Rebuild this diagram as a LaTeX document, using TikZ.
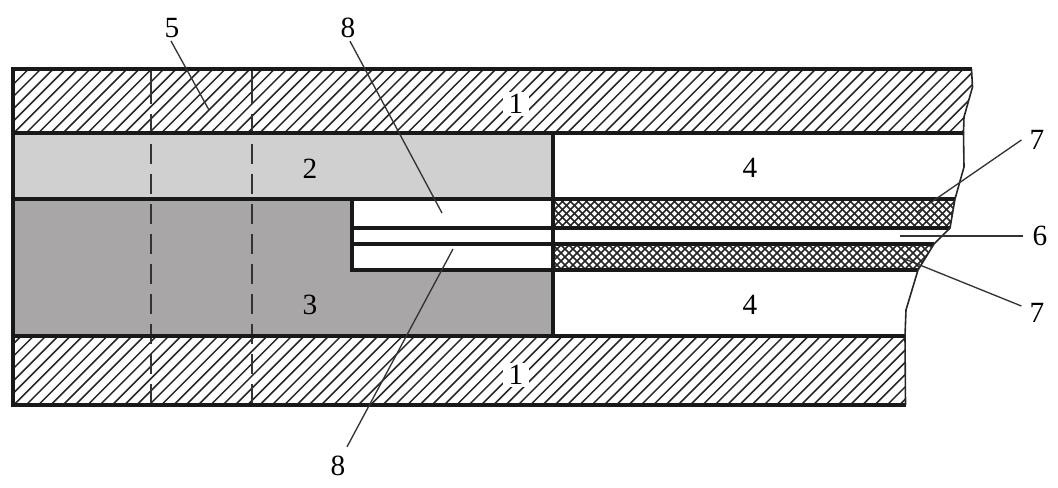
\documentclass[tikz,border=0pt]{standalone}
\usepackage{fontspec}
\setmainfont{Liberation Serif}
\usetikzlibrary{calc}
\definecolor{lightFill}{HTML}{D0D0D0}
\definecolor{darkFill}{HTML}{A8A6A6}
\newcommand{\bandTop}{69}
\newcommand{\bandOne}{133}
\newcommand{\bandTwo}{199}
\newcommand{\stripTop}{228}
\newcommand{\stripBottom}{244}
\newcommand{\bandThree}{270}
\newcommand{\bandFour}{336}
\newcommand{\bandBottom}{405}
\newcommand{\leftEdge}{13}
\newcommand{\stepX}{352}
\newcommand{\wallX}{553}
\tikzset{
	wallLine/.style={line width=2.4pt, black!90},
	hatchLine/.style={line width=1.15pt, black!85},
	crossLine/.style={line width=1.15pt, black!85},
	edgeLine/.style={line width=1.2pt, black!85},
	leaderLine/.style={line width=1pt, black!80},
	dashLine/.style={line width=1.2pt, black!80},
	numLabel/.style={inner sep=0pt, font=\fontsize{22}{22}\selectfont},
	numLabelClear/.style={numLabel, fill=white, inner xsep=4.5pt, inner ysep=2pt}
}
\begin{document}
\begin{tikzpicture}[x=.75pt,y=-.75pt]
	\useasboundingbox (0,0) rectangle (1058,487);

	% grey blocks
	\fill[lightFill] (\leftEdge,\bandOne) rectangle (\wallX,\bandTwo);
	\fill[darkFill] (\leftEdge,\bandTwo) -| (\stepX,\bandThree) -| (\wallX,\bandFour) -| cycle;

	% upper and lower hatched bars
	\begin{scope}
		\clip (\leftEdge,\bandTop) -- (971.5,\bandTop) -- (972.5,87) -- (964,117) -- (963.5,\bandOne) -- (\leftEdge,\bandOne) -- cycle;
		\foreach \hatchX in {-60,-47.7,...,1050}
			\draw[hatchLine] (\hatchX,\bandOne) -- ++(64,-64);
	\end{scope}
	\begin{scope}
		\clip (\leftEdge,\bandFour) rectangle (905.5,\bandBottom);
		\foreach \hatchX in {-60,-47.7,...,980}
			\draw[hatchLine] (\hatchX,\bandBottom) -- ++(69,-69);
	\end{scope}

	% cross hatched layers
	\begin{scope}
		\clip (\wallX,\bandTwo) -- (955,\bandTwo) -- (950,\stripTop) -- (\wallX,\stripTop) -- cycle;
		\foreach \hatchX in {520,528,...,980}
		{
			\draw[crossLine] (\hatchX,\stripTop) -- ++(29,-29);
			\draw[crossLine] (\hatchX,\bandTwo) -- ++(29,29);
		}
	\end{scope}
	\begin{scope}
		\clip (\wallX,\stripBottom) -- (934,\stripBottom) -- (918,\bandThree) -- (\wallX,\bandThree) -- cycle;
		\foreach \hatchX in {520,528,...,960}
		{
			\draw[crossLine] (\hatchX,\bandThree) -- ++(26,-26);
			\draw[crossLine] (\hatchX,\stripBottom) -- ++(26,26);
		}
	\end{scope}

	% dashed verticals
	\foreach \dashX in {151,252}
	{
		\draw[dashLine] (\dashX,\bandTop) -- (\dashX,104);
		\foreach \dashY in {114,144,...,384}
			\draw[dashLine] (\dashX,\dashY) -- ++(0,20);
	}

	% heavy outlines
	\foreach \xEnd/\yLine in {971.5/\bandTop, 963.5/\bandOne, 955/\bandTwo, 905/\bandFour, 905.5/\bandBottom}
		\draw[wallLine] (\leftEdge,\yLine) -- (\xEnd,\yLine);
	\foreach \xEnd/\yLine in {950/\stripTop, 934/\stripBottom, 918/\bandThree}
		\draw[wallLine] (\stepX,\yLine) -- (\xEnd,\yLine);
	\draw[wallLine, line cap=rect] (\leftEdge,\bandTop) -- (\leftEdge,\bandBottom);
	\draw[wallLine, line cap=rect] (\stepX,\bandTwo) -- (\stepX,\bandThree);
	\draw[wallLine, line cap=rect] (\wallX,\bandOne) -- (\wallX,\bandFour);

	% broken edge on the right
	\draw[edgeLine] (971.5,\bandTop) -- (972.5,87) -- (964,117) -- (963.5,\bandOne) -- (964,167) -- (955,\bandTwo) -- (950,\stripTop) -- (934,\stripBottom) -- (918,\bandThree) -- (906,310) -- (905,\bandFour) -- (905.5,\bandBottom);

	% labels
	\foreach \labelName/\xPos/\yPos/\labelText in {
		two/310/169/2, three/310/305/3,
		fourTop/750/168/4, fourBottom/750/305/4, five/172/28/5, six/1040/236/6,
		sevenTop/1037/140/7, sevenBottom/1037/313/7, eightTop/348/28/8, eightBottom/338/466/8}
		\node[numLabel] (\labelName) at (\xPos,\yPos) {\labelText};
	\node[numLabelClear] (oneTop) at (516,104) {1};
	\node[numLabelClear] (oneBottom) at (516,375) {1};

	% leader tips
	\foreach \tipName/\xPos/\yPos in {tipFive/209/110, tipSix/900/236, tipSevenTop/917/212, tipSevenBottom/900/257, tipEightTop/442/213, tipEightBottom/453/249}
		\coordinate (\tipName) at (\xPos,\yPos);

	\draw[leaderLine] ($(five.south)+(-1,3)$) -- (tipFive);
	\draw[leaderLine] ($(eightTop.south)+(2,3)$) -- (tipEightTop);
	\draw[leaderLine] ($(eightBottom.north)+(9,-9)$) -- (tipEightBottom);
	\draw[leaderLine] ($(sevenTop.west)+(-8,0)$) -- (tipSevenTop);
	\draw[leaderLine] ($(six.west)+(-9,0)$) -- (tipSix);
	\draw[leaderLine] ($(sevenBottom.west)+(-8,-7)$) -- (tipSevenBottom);
\end{tikzpicture}
\end{document}
